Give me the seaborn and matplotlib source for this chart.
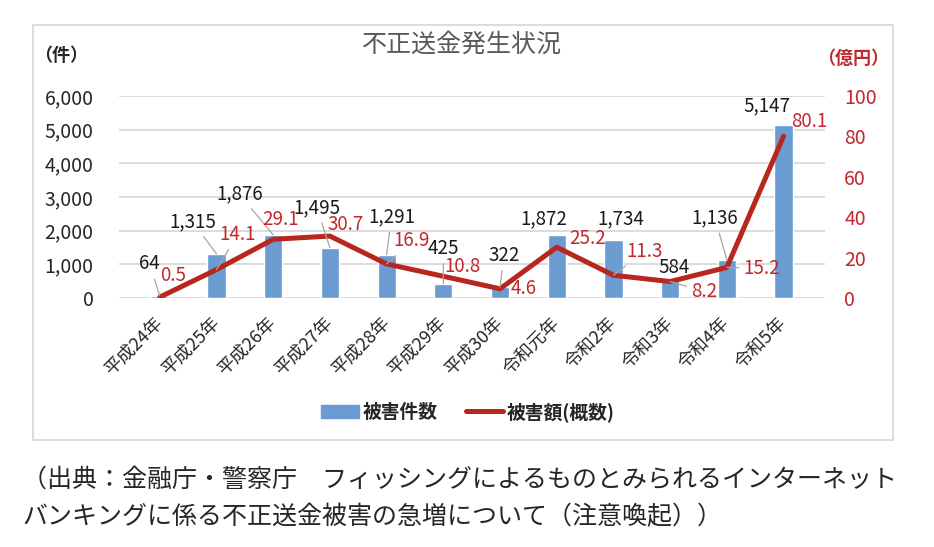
import seaborn as sns
import pandas as pd
import matplotlib.pyplot as plt
from matplotlib.patches import Patch, Rectangle
from matplotlib.lines import Line2D

years = ['平成24年', '平成25年', '平成26年', '平成27年', '平成28年', '平成29年',
         '平成30年', '令和元年', '令和2年', '令和3年', '令和4年', '令和5年']
counts = [64, 1315, 1876, 1495, 1291, 425, 322, 1872, 1734, 584, 1136, 5147]
amounts = [0.5, 14.1, 29.1, 30.7, 16.9, 10.8, 4.6, 25.2, 11.3, 8.2, 15.2, 80.1]

df = pd.DataFrame({'年': years, '被害件数': counts, '被害額': amounts})

# label offsets in pixels (dx, dy) and whether a leader line is drawn
count_off = [(-10, 32), (-24, 32), (-34, 41), (-13, 40), (5, 38), (0, 35),
             (4, 32), (-13, 16), (7, 21), (4, 11), (-12, 42), (-17, 19)]
count_lead = [1, 1, 1, 1, 1, 1, 1, 0, 0, 0, 1, 0]
amount_off = [(13, 22), (21, 35), (7, 20), (16, 12), (25, 23), (19, 10),
              (24, 0), (31, 9), (31, 24), (34, -10), (35, -1), (26, 15)]
amount_lead = [0, 1, 0, 0, 1, 0, 0, 0, 1, 1, 1, 0]

bar_color = '#6A9BD1'
line_color = '#B8261E'
red_text = '#C0282D'

sns.set_style('white')
plt.rcParams['font.family'] = ['Noto Sans CJK JP', 'DejaVu Sans']

fig = plt.figure(figsize=(9.34, 5.47), dpi=100)
ax = fig.add_axes([0.127, 0.455, 0.756, 0.3695])

sns.barplot(data=df, x='年', y='被害件数', color=bar_color, saturation=1,
            width=0.32, ax=ax)
ax2 = ax.twinx()
sns.lineplot(data=df, x='年', y='被害額', color=line_color, lw=3.6, sort=False,
             ax=ax2, solid_capstyle='round')

ax.set_ylim(0, 6000)
ax2.set_ylim(0, 100)
ax.set_yticks(range(0, 6001, 1000))
ax.set_yticklabels([f'{v:,}' for v in range(0, 6001, 1000)])
ax2.set_yticks(range(0, 101, 20))
ax.yaxis.grid(True, color='#d9d9d9', lw=1.3)
ax.set_axisbelow(True)
for a in (ax, ax2):
    a.set_xlabel('')
    a.set_ylabel('')
    for s in a.spines.values():
        s.set_visible(False)
ax.tick_params(axis='y', length=0, pad=18, labelsize=14)
ax2.tick_params(axis='y', length=0, pad=14, labelsize=14, labelcolor=red_text)
ax.tick_params(axis='x', length=0, pad=16, labelsize=13)
plt.setp(ax.get_xticklabels(), rotation=45, ha='right', va='center',
         rotation_mode='anchor')

lead = dict(arrowstyle='-', color='#a6a6a6', lw=0.9, shrinkA=1, shrinkB=0)
for i, (c, a) in enumerate(zip(counts, amounts)):
    ax2.annotate(f'{c:,}', xy=(i, c), xycoords=ax.transData,
                 xytext=count_off[i], textcoords='offset pixels',
                 ha='center', va='center', fontsize=13.5, color='#1a1a1a',
                 arrowprops=lead if count_lead[i] else None)
    ax2.annotate(f'{a}', xy=(i, a), xytext=amount_off[i], textcoords='offset pixels',
                 ha='center', va='center', fontsize=13.5, color=red_text,
                 arrowprops=lead if amount_lead[i] else None)

fig.text(462/934, 1-45/547, '不正送金発生状況', ha='center', va='center',
         fontsize=18, color='#595959')
fig.text(61/934, 1-55/547, '（件）', ha='center', va='center', fontsize=13,
         color='#262626', fontweight='bold')
fig.text(853/934, 1-58/547, '（億円）', ha='center', va='center', fontsize=13,
         color=red_text, fontweight='bold')

handles = [Patch(color=bar_color, label='被害件数'),
           Line2D([], [], color=line_color, lw=3.6, label='被害額(概数)')]
fig.legend(handles=handles, loc='center', bbox_to_anchor=(468/934, 1-412/547),
           ncol=2, frameon=False, handlelength=2.0, columnspacing=1.5,
           handletextpad=0.2, prop={'size': 13.5, 'weight': 'bold'})

fig.add_artist(Rectangle((33/934, 1-440/547), 860/934, 415/547,
                         transform=fig.transFigure, fill=False,
                         ec='#d9d9d9', lw=1.3))

fig.text(22/934, 1-480/547,
         '（出典：金融庁・警察庁　フィッシングによるものとみられるインターネット',
         ha='left', va='center', fontsize=18)
fig.text(22/934, 1-517/547,
         'バンキングに係る不正送金被害の急増について（注意喚起））',
         ha='left', va='center', fontsize=18)

fig.savefig('out.png', dpi=100)
